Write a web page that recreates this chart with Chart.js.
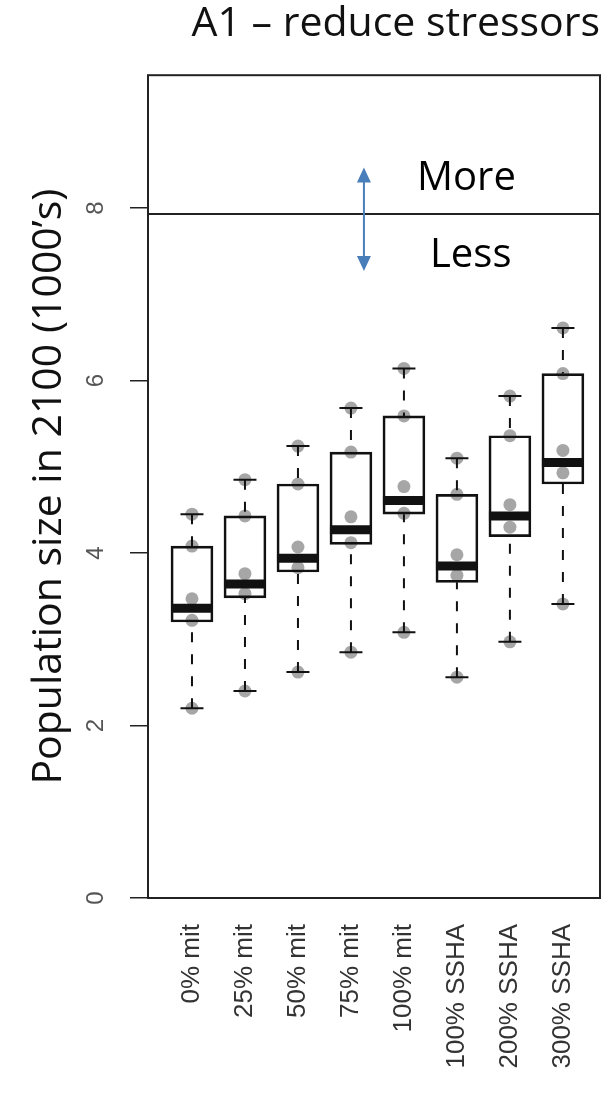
<!DOCTYPE html>
<html>
<head>
<meta charset="utf-8">
<script src="https://cdn.jsdelivr.net/npm/chart.js@4.4.1/dist/chart.umd.min.js"></script>
<style>
	body { margin: 0; background: #fff; }
	canvas { display: block; }
</style>
</head>
<body>
<canvas id="boxChart" width="610" height="1100"></canvas>
<script>
const categories = ["0% mit", "25% mit", "50% mit", "75% mit", "100% mit", "100% SSHA", "200% SSHA", "300% SSHA"];
const whiskerLow = [2.2, 2.4, 2.62, 2.85, 3.08, 2.56, 2.97, 3.41];
const boxLow = [3.2, 3.48, 3.78, 4.1, 4.45, 3.66, 4.19, 4.8];
const medians = [3.36, 3.64, 3.94, 4.27, 4.61, 3.85, 4.43, 5.05];
const boxHigh = [4.08, 4.43, 4.8, 5.17, 5.59, 4.68, 5.36, 6.08];
const whiskerHigh = [4.45, 4.85, 5.24, 5.68, 6.14, 5.1, 5.82, 6.61];
// replicate runs drawn as grey dots
const runPoints = [
	[4.45, 4.08, 3.47, 3.22, 2.2],
	[4.85, 4.43, 3.76, 3.53, 2.4],
	[5.24, 4.8, 4.07, 3.83, 2.62],
	[5.68, 5.17, 4.42, 4.12, 2.85],
	[6.14, 5.59, 4.77, 4.46, 3.08],
	[5.1, 4.68, 3.98, 3.74, 2.56],
	[5.82, 5.36, 4.56, 4.3, 2.97],
	[6.61, 6.08, 5.19, 4.93, 3.41],
];
const yTicks = [0, 2, 4, 6, 8];
const threshold = 7.93;
// arrow and More/Less notes, in data units
const arrowAt = { x: 4.245, top: 8.47, bottom: 7.27 };
const moreAt = { x: 6.18, y: 8.21 };
const lessAt = { x: 6.26, y: 7.32 };

const boxData = categories.map((c, i) => ({ x: i + 1, y: [boxLow[i], boxHigh[i]] }));
const pointData = [];
runPoints.forEach((runs, i) => runs.forEach((v) => pointData.push({ x: i + 1, y: v })));

const boxExtras = {
	id: "boxExtras",
	afterDatasetsDraw(chart) {
		const { ctx, chartArea, scales: { x, y } } = chart;
		const bars = chart.getDatasetMeta(1).data;
		ctx.save();
		ctx.strokeStyle = "#111";
		categories.forEach((c, i) => {
			const cx = x.getPixelForValue(i + 1);
			const half = bars[i].width / 2;
			// whiskers
			ctx.lineWidth = 2;
			ctx.setLineDash([10, 12]);
			ctx.beginPath();
			ctx.moveTo(cx, y.getPixelForValue(whiskerHigh[i]));
			ctx.lineTo(cx, y.getPixelForValue(boxHigh[i]));
			ctx.moveTo(cx, y.getPixelForValue(whiskerLow[i]));
			ctx.lineTo(cx, y.getPixelForValue(boxLow[i]));
			ctx.stroke();
			ctx.setLineDash([]);
			// staples
			ctx.beginPath();
			[whiskerHigh[i], whiskerLow[i]].forEach((v) => {
				ctx.moveTo(cx - half / 2 - 1, y.getPixelForValue(v));
				ctx.lineTo(cx + half / 2 + 1, y.getPixelForValue(v));
			});
			ctx.stroke();
			// median
			ctx.lineWidth = 9;
			ctx.beginPath();
			ctx.moveTo(cx - half, y.getPixelForValue(medians[i]));
			ctx.lineTo(cx + half, y.getPixelForValue(medians[i]));
			ctx.stroke();
		});

		// threshold line
		const ty = y.getPixelForValue(threshold);
		ctx.lineWidth = 2;
		ctx.strokeStyle = "#222";
		ctx.beginPath();
		ctx.moveTo(chartArea.left, ty);
		ctx.lineTo(chartArea.right, ty);
		ctx.stroke();

		// plot frame
		ctx.strokeRect(chartArea.left, chartArea.top, chartArea.right - chartArea.left, chartArea.bottom - chartArea.top);

		// blue double arrow
		const ax = x.getPixelForValue(arrowAt.x);
		const aTop = y.getPixelForValue(arrowAt.top);
		const aBot = y.getPixelForValue(arrowAt.bottom);
		ctx.strokeStyle = "#4a7ebb";
		ctx.fillStyle = "#4a7ebb";
		ctx.lineWidth = 2;
		ctx.beginPath();
		ctx.moveTo(ax, aTop + 10);
		ctx.lineTo(ax, aBot - 10);
		ctx.stroke();
		ctx.beginPath();
		ctx.moveTo(ax, aTop);
		ctx.lineTo(ax - 7, aTop + 15);
		ctx.lineTo(ax + 7, aTop + 15);
		ctx.closePath();
		ctx.moveTo(ax, aBot);
		ctx.lineTo(ax - 7, aBot - 15);
		ctx.lineTo(ax + 7, aBot - 15);
		ctx.closePath();
		ctx.fill();

		// More / Less
		ctx.fillStyle = "#000";
		ctx.font = "40px 'Open Sans'";
		ctx.textAlign = "center";
		ctx.textBaseline = "alphabetic";
		ctx.fillText("More", x.getPixelForValue(moreAt.x), y.getPixelForValue(moreAt.y));
		ctx.fillText("Less", x.getPixelForValue(lessAt.x), y.getPixelForValue(lessAt.y));
		ctx.restore();
	},
};

new Chart(document.getElementById("boxChart"), {
	type: "bar",
	data: {
		datasets: [
			{
				type: "scatter",
				data: pointData,
				backgroundColor: "rgba(150,150,150,0.85)",
				borderWidth: 0,
				pointRadius: 6.5,
				order: 2,
			},
			{
				type: "bar",
				data: boxData,
				backgroundColor: "rgba(0,0,0,0)",
				borderColor: "#111",
				borderWidth: 2,
				borderSkipped: false,
				barThickness: 42,
				order: 1,
			},
		],
	},
	options: {
		responsive: false,
		animation: false,
		layout: { padding: { left: 0, right: 10, top: 0, bottom: 0 } },
		plugins: {
			legend: { display: false },
			tooltip: { enabled: false },
			title: {
				display: true,
				text: "A1 – reduce stressors",
				align: "end",
				color: "#111",
				font: { family: "'Open Sans'", size: 41, weight: "normal" },
				padding: { top: 0, bottom: 26 },
			},
		},
		scales: {
			x: {
				type: "linear",
				offset: false,
				min: 0.17,
				max: 8.7,
				afterBuildTicks: (scale) => {
					scale.ticks = categories.map((c, i) => ({ value: i + 1 }));
				},
				afterFit: (scale) => {
					scale.height = 202;
					scale.paddingLeft = 0;
					scale.paddingRight = 0;
				},
				grid: { display: false, drawTicks: false },
				border: { display: false },
				ticks: {
					autoSkip: false,
					minRotation: 90,
					maxRotation: 90,
					padding: 26,
					color: "#333",
					font: { family: "'Liberation Sans'", size: 26 },
					callback: (v) => categories[Math.round(v) - 1],
				},
			},
			y: {
				min: 0,
				max: 9.54,
				afterBuildTicks: (scale) => {
					scale.ticks = yTicks.map((v) => ({ value: v }));
				},
				afterFit: (scale) => {
					scale.width = 148;
					scale.paddingTop = 0;
					scale.paddingBottom = 0;
				},
				grid: { drawOnChartArea: false, drawTicks: true, tickLength: 18, color: "#222", lineWidth: 1.5 },
				border: { display: false },
				ticks: {
					minRotation: 90,
					maxRotation: 90,
					crossAlign: "center",
					padding: 27,
					color: "#555",
					font: { family: "'Liberation Sans'", size: 24 },
				},
				title: {
					display: true,
					text: "Population size in 2100 (1000’s)",
					color: "#111",
					font: { family: "'Open Sans'", size: 41, weight: "normal" },
					padding: { top: 25, bottom: 0 },
				},
			},
		},
	},
	plugins: [boxExtras],
});
</script>
</body>
</html>
